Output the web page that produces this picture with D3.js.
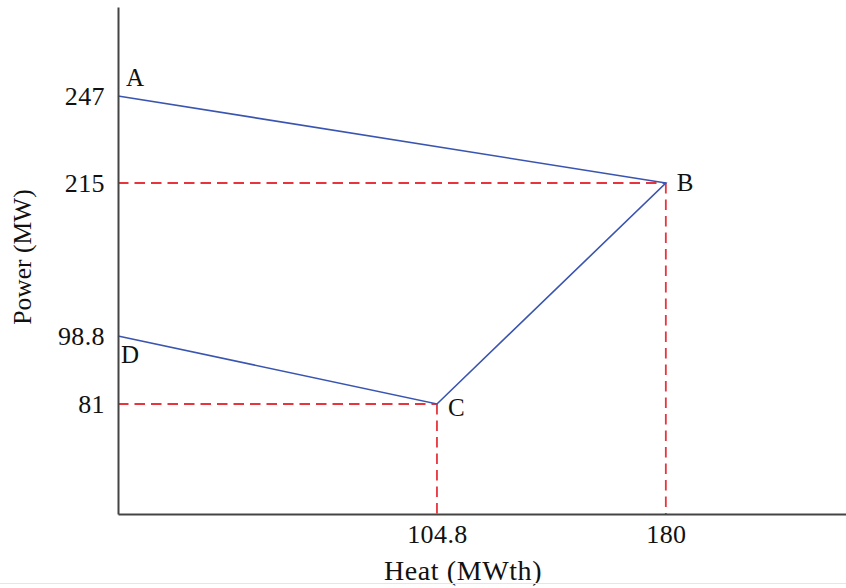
<!DOCTYPE html>
<html>
<head>
<meta charset="utf-8">
<script src="https://cdn.jsdelivr.net/npm/d3@7"></script>
<style>
  body { margin: 0; background: #fff; }
  svg text { font-family: "Liberation Serif", "DejaVu Serif", serif; fill: #111; }
</style>
</head>
<body>
<main></main>
<script>
// operating region corners (heat MWth, power MW)
const pointNames = ['A', 'B', 'C', 'D'];
const heatValues = [0, 180, 104.8, 0];
const powerValues = [247, 215, 81, 98.8];

const xTicks = [104.8, 180];
const yTicks = [81, 98.8, 215, 247];

const width = 846, height = 588;

// x is linear, y axis of the schematic is not to scale -> piecewise scale
const x = d3.scaleLinear()
    .domain([0, 239.2])
    .range([118, 846]);

const y = d3.scaleLinear()
    .domain([0, 81, 98.8, 215, 247, 280])
    .range([514, 404, 336, 183, 96, 7]);

const svg = d3.select("main").append("svg")
    .attr("width", width)
    .attr("height", height);

const pts = pointNames.map((n, i) => ({name: n, heat: heatValues[i], power: powerValues[i]}));

// red guide lines to B and C
const guides = pts.filter(d => d.heat > 0);
const dash = "10.5,6";

svg.selectAll(".hguide")
    .data(guides)
  .enter().append("line")
    .attr("x1", x(0))
    .attr("x2", d => x(d.heat))
    .attr("y1", d => y(d.power))
    .attr("y2", d => y(d.power))
    .style("stroke", "#e8343c")
    .style("stroke-width", 1.8)
    .style("stroke-dasharray", dash);

svg.selectAll(".vguide")
    .data(guides)
  .enter().append("line")
    .attr("x1", d => x(d.heat))
    .attr("x2", d => x(d.heat))
    .attr("y1", d => y(d.power))
    .attr("y2", y(0))
    .style("stroke", "#e8343c")
    .style("stroke-width", 1.8)
    .style("stroke-dasharray", dash);

// boundary A-B-C-D
const line = d3.line()
    .x(d => x(d.heat))
    .y(d => y(d.power));

svg.append("path")
    .datum(pts)
    .attr("d", line)
    .style("fill", "none")
    .style("stroke", "#3a55b0")
    .style("stroke-width", 1.6);

// axes
const xAxis = d3.axisBottom(x).tickValues(xTicks).tickSize(0).tickPadding(11).tickFormat(d => d);
const yAxis = d3.axisLeft(y).tickValues(yTicks).tickSize(0).tickPadding(13).tickFormat(d => d);

const gx = svg.append("g")
    .attr("transform", `translate(0, ${y(0)})`)
    .call(xAxis);

const gy = svg.append("g")
    .attr("transform", `translate(${x(0)}, 0)`)
    .call(yAxis);

[gx, gy].forEach(g => {
  g.select(".domain").style("stroke", "#444").style("stroke-width", 2);
  g.selectAll("text")
      .style("font-family", '"Liberation Serif", serif')
      .style("font-size", "26px")
      .style("letter-spacing", "0.4px")
      .style("fill", "#111");
});

// axis titles
svg.append("text")
    .attr("x", 463)
    .attr("y", 580)
    .style("text-anchor", "middle")
    .style("font-size", "28px")
    .style("letter-spacing", "0.6px")
    .text("Heat (MWth)");

svg.append("text")
    .attr("transform", "translate(31, 257) rotate(-90)")
    .style("text-anchor", "middle")
    .style("font-size", "25.5px")
    .text("Power (MW)");

// point labels
const labelOffset = {A: [8, -10], B: [11, 8], C: [11, 12], D: [3, 27]};

svg.selectAll(".pt-label")
    .data(pts)
  .enter().append("text")
    .attr("x", d => x(d.heat) + labelOffset[d.name][0])
    .attr("y", d => y(d.power) + labelOffset[d.name][1])
    .style("font-size", "25px")
    .text(d => d.name);

// faint page edge at the bottom
svg.append("line")
    .attr("x1", 0).attr("x2", width)
    .attr("y1", 583.5).attr("y2", 583.5)
    .style("stroke", "#e6e6e6");
</script>
</body>
</html>
